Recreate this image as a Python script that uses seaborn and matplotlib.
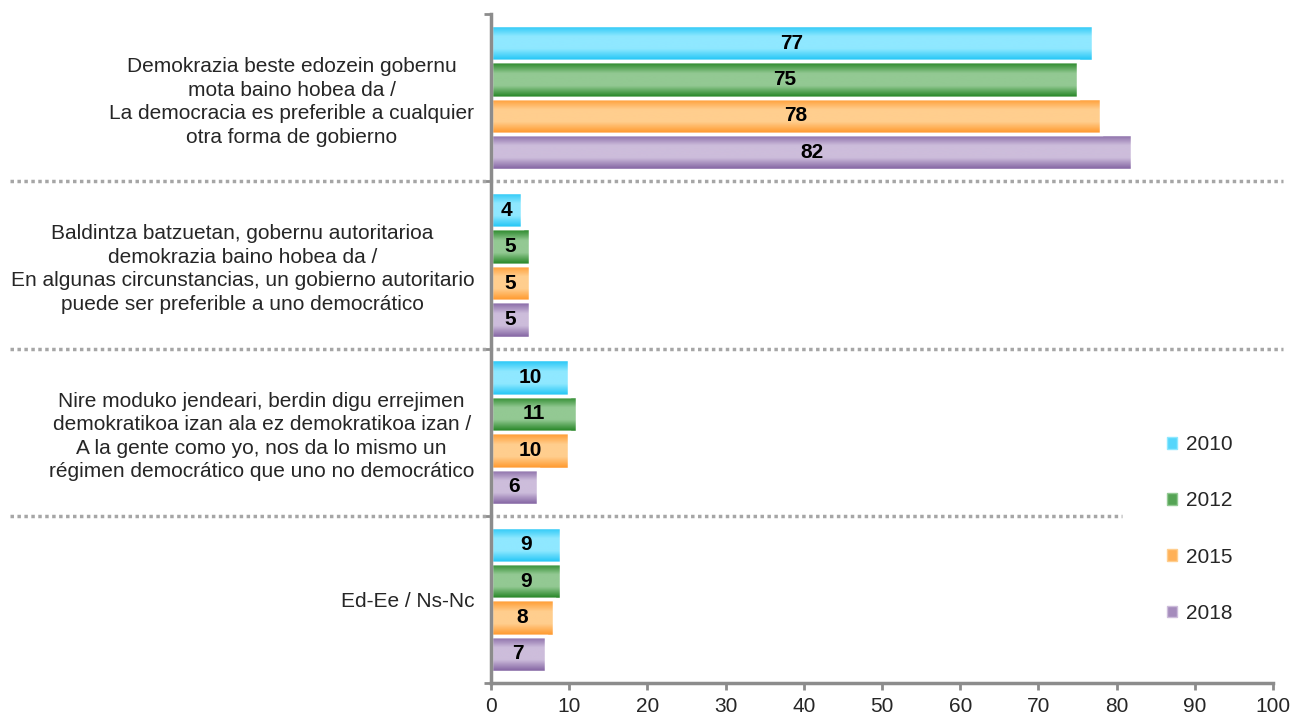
import numpy as np
import pandas as pd
import matplotlib
matplotlib.use("Agg")
import matplotlib.pyplot as plt
import seaborn as sns
from matplotlib.colors import LinearSegmentedColormap
from matplotlib.patches import Patch
from matplotlib.transforms import blended_transform_factory

categories = [
    "Demokrazia beste edozein gobernu\nmota baino hobea da /\nLa democracia es preferible a cualquier\notra forma de gobierno",
    "Baldintza batzuetan, gobernu autoritarioa\ndemokrazia baino hobea da /\nEn algunas circunstancias, un gobierno autoritario\npuede ser preferible a uno democrático",
    "Nire moduko jendeari, berdin digu errejimen\ndemokratikoa izan ala ez demokratikoa izan /\nA la gente como yo, nos da lo mismo un\nrégimen democrático que uno no democrático",
    "Ed-Ee / Ns-Nc",
]
years = ["2010", "2012", "2015", "2018"]
v2010 = [77, 4, 10, 9]
v2012 = [75, 5, 11, 9]
v2015 = [78, 5, 10, 8]
v2018 = [82, 5, 6, 7]

dark_colors = ["#19c3f5", "#1b7f1b", "#ff9424", "#7d5c9e"]
light_colors = ["#8fe8ff", "#93c993", "#ffce8e", "#cdbddb"]
mid_colors = ["#55d6fb", "#55a455", "#ffb158", "#a58cbc"]

series = [v2010, v2012, v2015, v2018]
df = pd.DataFrame({
    "cat": [c for s in series for c in categories],
    "value": [v for s in series for v in s],
    "year": [y for y, s in zip(years, series) for _ in s],
})

sns.set_theme(style="white")
plt.rcParams["font.family"] = ["Liberation Sans", "DejaVu Sans"]

fig = plt.figure(figsize=(12.94, 7.16), dpi=100)
ax = fig.add_axes([491 / 1294, 1 - 683 / 716, (1273 - 491) / 1294, (683 - 14) / 716])

sns.barplot(data=df, y="cat", x="value", hue="year", orient="h", order=categories,
            hue_order=years, palette=dict(zip(years, mid_colors)), width=0.87,
            ax=ax, legend=False, edgecolor="white", linewidth=2.5, saturation=1)

# gradient fill
for i, cont in enumerate(ax.containers):
    cmap = LinearSegmentedColormap.from_list(
        f"g{i}", [dark_colors[i], light_colors[i], light_colors[i], dark_colors[i]])
    grad = np.linspace(0, 1, 64).reshape(-1, 1)
    for p in cont.patches:
        x0, y0, w, h = p.get_x(), p.get_y(), p.get_width(), p.get_height()
        im = ax.imshow(grad, cmap=cmap, aspect="auto", extent=(x0, x0 + w, y0 + h, y0),
                       zorder=p.get_zorder() - 0.05, interpolation="bicubic")
        im.set_clip_path(p)
        p.set_facecolor("none")
    ax.bar_label(cont, labels=[str(int(round(v))) for v in cont.datavalues],
                 label_type="center", fontsize=15, fontweight="bold", color="black")

ax.set_xlim(0, 100)
ax.set_ylim(3.5, -0.5)
ax.set_xlabel("")
ax.set_ylabel("")

ax.set_xticks(np.arange(0, 101, 10))
ax.tick_params(axis="x", length=5, width=2, color="#8c8c8c", labelsize=15, pad=5,
               direction="out", bottom=True)
ax.set_yticks(range(len(categories)))
ax.set_yticklabels(categories, fontsize=15, linespacing=1.3, ha="right",
                   multialignment="center")
ax.tick_params(axis="y", length=0, pad=12)
ax.set_yticks(np.arange(-0.5, 4.0, 1.0), minor=True)
ax.tick_params(axis="y", which="minor", length=5, width=2, color="#8c8c8c", left=True)

for s in ["top", "right"]:
    ax.spines[s].set_visible(False)
for s in ["left", "bottom"]:
    ax.spines[s].set_color("#8c8c8c")
    ax.spines[s].set_linewidth(2.5)
ax.grid(False)

# dotted separators
tr = blended_transform_factory(fig.transFigure, ax.transData)
for yb, xr in [(0.5, 1283), (1.5, 1283), (2.5, 1122)]:
    ax.plot([10 / 1294, xr / 1294], [yb, yb], transform=tr, color="#a6a6a6",
            linewidth=2.5, linestyle=(0, (1, 1)), clip_on=False, zorder=1)

handles = [Patch(facecolor=mid_colors[i], edgecolor=light_colors[i], label=years[i])
           for i in range(4)]
fig.legend(handles=handles, loc="upper left", bbox_to_anchor=(1167 / 1294, 1 - 435 / 716),
           frameon=False, fontsize=15, handlelength=0.5, handleheight=0.5,
           handletextpad=0.4, labelspacing=1.79, borderpad=0, borderaxespad=0)

fig.savefig("out.png", dpi=100)
